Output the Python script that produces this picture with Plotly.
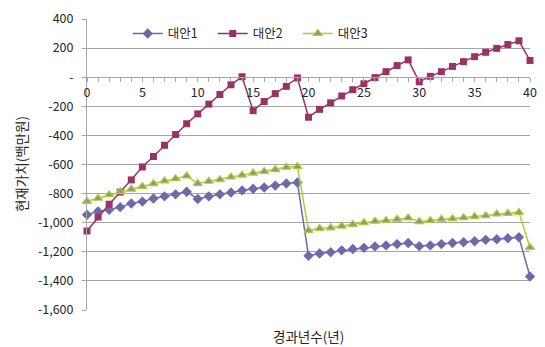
import plotly.graph_objects as go

years = list(range(0, 41))

alt1 = [-945, -922, -911, -893, -868, -855, -834, -819, -805, -787,
        -837, -819, -805, -792, -778, -767, -758, -745, -731, -724,
        -1228, -1212, -1203, -1190, -1181, -1173, -1163, -1156, -1147, -1140,
        -1161, -1156, -1147, -1140, -1134, -1127, -1118, -1114, -1107, -1100,
        -1370]

alt2 = [-1057, -961, -873, -790, -706, -617, -545, -468, -394, -320,
        -252, -185, -119, -52, 3, -230, -167, -113, -63, -5,
        -275, -221, -176, -129, -86, -45, -3, 38, 80, 119,
        -32, 6, 38, 74, 107, 141, 171, 198, 225, 250,
        115]

alt3 = [-853, -832, -808, -787, -770, -751, -731, -713, -697, -679,
        -731, -715, -704, -686, -673, -659, -648, -635, -619, -614,
        -1053, -1039, -1035, -1023, -1012, -1000, -990, -985, -976, -967,
        -992, -985, -976, -972, -965, -958, -952, -940, -936, -929,
        -1170]

names = ["대안1", "대안2", "대안3"]

y_tickvals = [400, 200, 0, -200, -400, -600, -800, -1000, -1200, -1400, -1600]
y_ticktext = ["400", "200", "-", "-200", "-400", "-600", "-800", "-1,000", "-1,200", "-1,400", "-1,600"]
x_tickvals = [0, 5, 10, 15, 20, 25, 30, 35, 40]

FONT = "Noto Sans CJK KR"
GRID = "#a6a6a6"
TXT = "#262626"

fig = go.Figure()
fig.add_trace(go.Scatter(x=years, y=alt1, name=names[0], mode="lines+markers",
                         line=dict(color="#6B6BAA", width=1.5),
                         marker=dict(symbol="diamond", size=8, color="#6B6BAA"),
                         cliponaxis=False))
fig.add_trace(go.Scatter(x=years, y=alt2, name=names[1], mode="lines+markers",
                         line=dict(color="#993366", width=1.5),
                         marker=dict(symbol="square", size=7, color="#993366"),
                         cliponaxis=False))
fig.add_trace(go.Scatter(x=years, y=alt3, name=names[2], mode="lines+markers",
                         line=dict(color="#AACF3A", width=1.5),
                         marker=dict(symbol="triangle-up", size=8, color="#959579",
                                     line=dict(color="#AACF3A", width=1.2)),
                         cliponaxis=False))

fig.update_layout(
    width=545, height=347,
    margin=dict(l=87, r=8, t=13, b=37),
    paper_bgcolor="white", plot_bgcolor="white",
    font=dict(family=FONT, size=12, color=TXT),
    showlegend=True,
    legend=dict(orientation="h", x=0.092, y=0.949, xanchor="left", yanchor="middle",
                bgcolor="rgba(0,0,0,0)", font=dict(size=12.5, color=TXT),
                entrywidth=40, entrywidthmode="pixels", itemwidth=30),
    xaxis=dict(range=[0, 40], tickvals=x_tickvals, showgrid=False,
               anchor="free", position=0.8, showline=True, linecolor=GRID, linewidth=1,
               ticks="outside", ticklen=4, tickcolor=GRID, zeroline=False,
               minor=dict(dtick=1, ticks="outside", ticklen=4, tickcolor=GRID, showgrid=False),
               tickfont=dict(size=12.5, color=TXT)),
    yaxis=dict(range=[-1600, 400], tickvals=y_tickvals, ticktext=y_ticktext,
               showgrid=True, gridcolor=GRID, gridwidth=1, zeroline=False,
               showline=True, linecolor=GRID, linewidth=1,
               ticks="outside", ticklen=4, tickcolor=GRID, ticklabelstandoff=6,
               tickfont=dict(size=12.5, color=TXT)),
    annotations=[
        dict(text="경과년수(년)", xref="paper", yref="paper", x=0.5, y=-0.09,
             xanchor="center", yanchor="middle", showarrow=False,
             font=dict(size=13.5, color=TXT)),
        dict(text="현재가치(백만원)", xref="paper", yref="paper", x=-0.15, y=0.5,
             xanchor="center", yanchor="middle", showarrow=False, textangle=-90,
             font=dict(size=13.5, color=TXT)),
    ],
)

fig.write_html("out.html")
